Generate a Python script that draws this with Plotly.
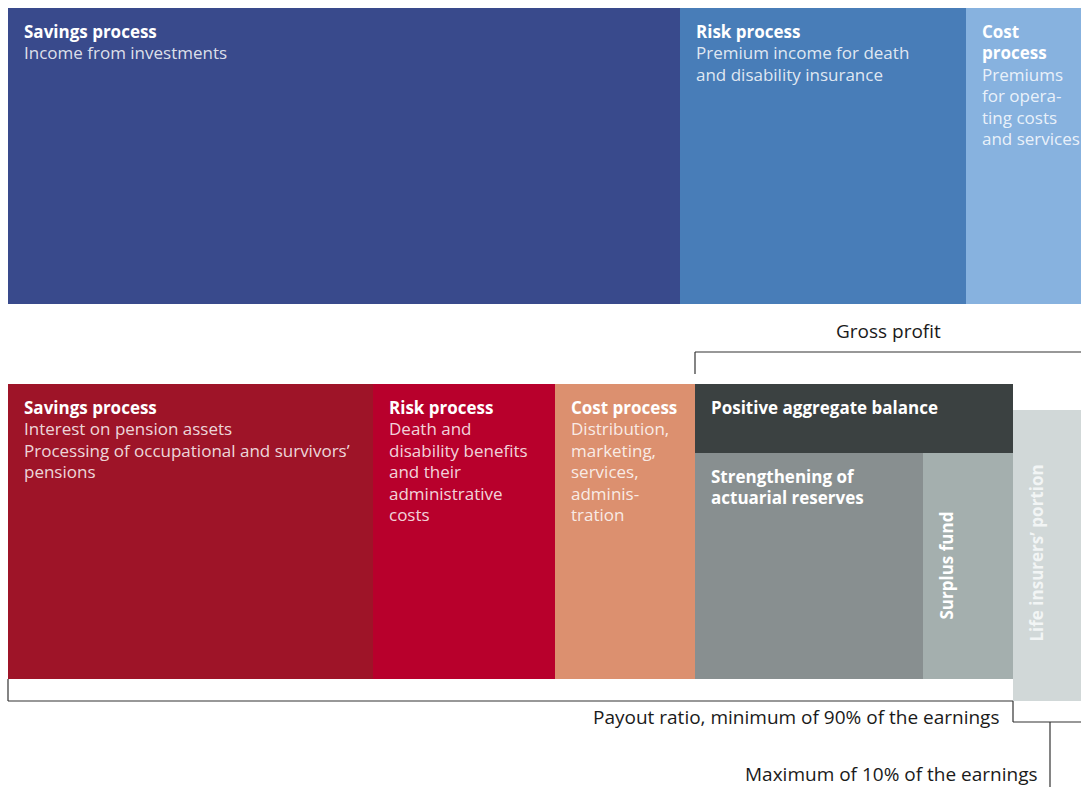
import numpy as np
import plotly.graph_objects as go

# ---------------- data ----------------
income_labels = ["Savings process", "Risk process", "Cost process"]
income_heads = ["Savings process", "Risk process", "Cost<br>process"]
income_texts = [
    "Income from investments",
    "Premium income for death<br>and disability insurance",
    "Premiums<br>for opera-<br>ting costs<br>and services",
]
income_values = [672, 286, 115]

expense_labels = ["Savings process", "Risk process", "Cost process", "Gross profit"]
expense_texts = [
    "Interest on pension assets<br>Processing of occupational and survivors’<br>pensions",
    "Death and<br>disability benefits<br>and their<br>administrative<br>costs",
    "Distribution,<br>marketing,<br>services,<br>adminis-<br>tration",
    "",
]
expense_values = [365, 182, 140, 318]

profit_labels = ["Strengthening of<br>actuarial reserves", "Surplus fund"]
profit_values = [228, 90]
balance_label = "Positive aggregate balance"

life_label = "Life insurers’ portion"
life_value = 68

payout_label = "Payout ratio, minimum of 90% of the earnings"
max_label = "Maximum of 10% of the earnings"

# ---------------- styles / layout constants ----------------
income_colors = ["#394a8c", "#487db8", "#87b2df"]
expense_colors = ["#9e1428", "#b8002c", "#dc906f"]
balance_color = "#3b4141"
profit_colors = ["#888f90", "#a4afae"]
life_color = "#d1d8d8"

W, H = 1081, 787
X0 = 8
TOP_Y0, TOP_Y1 = 8, 304
BOT_Y0, BOT_Y1 = 384, 679
BAL_Y1 = 453
LIFE_Y0, LIFE_Y1 = 410, 701
FONT = "Open Sans"
LINE = "#333333"
WSIZE = 17
BSIZE = 19
LH = 21.4

inc_left = X0 + np.concatenate([[0], np.cumsum(income_values)[:-1]])
exp_left = X0 + np.concatenate([[0], np.cumsum(expense_values)[:-1]])
gp_left = exp_left[3]
prof_left = gp_left + np.concatenate([[0], np.cumsum(profit_values)[:-1]])
life_left = gp_left + expense_values[3]

rects = []  # (left, width, top, bottom, color)
for l, w, c in zip(inc_left, income_values, income_colors):
    rects.append((l, w, TOP_Y0, TOP_Y1, c))
for l, w, c in zip(exp_left[:3], expense_values[:3], expense_colors):
    rects.append((l, w, BOT_Y0, BOT_Y1, c))
rects.append((gp_left, expense_values[3], BOT_Y0, BAL_Y1, balance_color))
for l, w, c in zip(prof_left, profit_values, profit_colors):
    rects.append((l, w, BAL_Y1, BOT_Y1, c))
rects.append((life_left, life_value, LIFE_Y0, LIFE_Y1, life_color))

fig = go.Figure()
fig.add_trace(go.Bar(
    orientation="h",
    base=[r[0] for r in rects],
    x=[r[1] for r in rects],
    y=[(r[2] + r[3]) / 2 for r in rects],
    width=[r[3] - r[2] for r in rects],
    marker=dict(color=[r[4] for r in rects], line=dict(width=0)),
    hoverinfo="skip",
    showlegend=False,
))

ann = []
PADX = 14
BODY = "rgba(255,255,255,0.84)"


def block_label(x, y, head, body):
    lines = [(ln, True) for ln in head.split("<br>")]
    if body:
        lines += [(ln, False) for ln in body.split("<br>")]
    for i, (ln, bold) in enumerate(lines):
        ann.append(dict(x=x + PADX, y=y + 23.5 + LH * i, xref="x", yref="y",
                        text=f"<b>{ln}</b>" if bold else ln,
                        showarrow=False, xanchor="left", yanchor="middle", align="left",
                        font=dict(family=FONT, size=WSIZE,
                                  color="white" if bold else BODY)))


for i in range(3):
    block_label(inc_left[i], TOP_Y0, income_heads[i], income_texts[i])
for i in range(3):
    block_label(exp_left[i], BOT_Y0, expense_labels[i], expense_texts[i])
block_label(gp_left, BOT_Y0, balance_label, "")
block_label(prof_left[0], BAL_Y1, profit_labels[0], "")

ann.append(dict(x=prof_left[1] + 22.5, y=(BAL_Y1 + BOT_Y1) / 2,
                xref="x", yref="y", text=f"<b>{profit_labels[1]}</b>", textangle=-90,
                showarrow=False, font=dict(family=FONT, size=WSIZE, color="white")))
ann.append(dict(x=life_left + 23, y=(LIFE_Y0 + LIFE_Y1) / 2 - 2,
                xref="x", yref="y", text=f"<b>{life_label}</b>", textangle=-90,
                showarrow=False, font=dict(family=FONT, size=WSIZE, color="#f2f5f5")))

# bracket texts
ann.append(dict(x=gp_left + (W - gp_left) / 2, y=331, xref="x", yref="y",
                text=expense_labels[3], showarrow=False,
                font=dict(family=FONT, size=BSIZE, color="#1a1a1a")))
ann.append(dict(x=life_left - 12, y=717, xref="x", yref="y", text=payout_label,
                showarrow=False, xanchor="right",
                font=dict(family=FONT, size=BSIZE, color="#1a1a1a")))
ann.append(dict(x=1039, y=774, xref="x", yref="y", text=max_label,
                showarrow=False, xanchor="right", borderpad=0,
                font=dict(family=FONT, size=BSIZE, color="#1a1a1a")))

shapes = []


def seg(x0, y0, x1, y1):
    shapes.append(dict(type="line", xref="x", yref="y", x0=x0, y0=y0, x1=x1, y1=y1,
                       line=dict(color=LINE, width=1.2)))


# gross profit bracket
seg(gp_left, 352, W, 352)
seg(gp_left, 352, gp_left, 374)
# payout bracket
seg(X0, BOT_Y1, X0, 701)
seg(X0, 701, life_left, 701)
seg(life_left, 701, life_left, 722)
seg(life_left, 722, W, 722)
seg(1050, 722, 1050, H)

fig.update_layout(
    width=W, height=H, autosize=False,
    margin=dict(l=0, r=0, t=0, b=0),
    paper_bgcolor="white", plot_bgcolor="white",
    xaxis=dict(range=[0, W], visible=False, fixedrange=True),
    yaxis=dict(range=[H, 0], visible=False, fixedrange=True),
    annotations=ann, shapes=shapes,
    barmode="overlay",
)

fig.write_html("out.html")
